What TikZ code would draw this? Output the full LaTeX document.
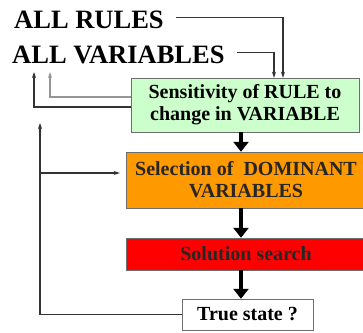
\documentclass[tikz,border=0pt]{standalone}
\usepackage{fontspec}
\setmainfont{Liberation Serif}
\usetikzlibrary{positioning, arrows.meta, calc}
\definecolor{senscol}{RGB}{204,255,204}
\definecolor{selcol}{RGB}{255,153,0}
\definecolor{solcol}{RGB}{255,0,0}
\definecolor{edgecol}{RGB}{110,110,110}
\definecolor{fbgray}{RGB}{150,150,150}

\begin{document}
\begin{tikzpicture}[
			x=1pt, y=-1pt,
			title/.style={
				font=\fontsize{26.5}{28}\selectfont\bfseries,
				inner sep=0pt,
				anchor=base west
			},
			box/.style={
				draw=edgecol,
				rectangle,
				align=center,
				inner sep=0pt,
				font=\fontsize{20}{22}\selectfont\bfseries
			},
			thin arrow/.style={
				draw=black!80,
				-{Stealth[length=6pt,width=4pt]},
				line width=1.2pt
			},
			step arrow/.style={
				draw=black,
				-{Triangle[length=10pt,width=15pt]},
				line width=3.5pt
			}
			]
			\useasboundingbox (0,0) rectangle (363,332);
			% Inputs
			\node[title] (rules) at (14,28) {ALL RULES};
			\node[title] (vars) at (12,63) {ALL VARIABLES};
			
			% Boxes
			\node[box, fill=senscol, minimum width=228pt, minimum height=54pt] (sens) at (245,105) {Sensitivity of RULE to\\change in VARIABLE};
			\node[box, fill=selcol, minimum width=240pt, minimum height=56pt, text=black!85] (sel) at (246,180) {Selection of~ DOMINANT\\VARIABLES};
			\node[box, fill=solcol, minimum width=240pt, minimum height=32pt, text=black!85] (sol) at (246,254) {Solution search};
			\node[box, fill=white, minimum width=131pt, minimum height=31pt] (truest) at (247.5,314.5) {True state ?};
			
			% Free ends
			\coordinate (fbA) at (50,72);
			\coordinate (fbB) at (34,72);
			\coordinate (loopTop) at (40,123);
			\coordinate (branch) at (40,173);
			
			% Connectors
			\draw[thin arrow] ([xshift=12pt,yshift=2pt]rules.east) -| ([xshift=38pt]sens.north);
			\draw[thin arrow] ([xshift=12pt,yshift=2pt]vars.east) -| ([xshift=29pt]sens.north);
			\draw[thin arrow, draw=fbgray] ([yshift=8pt]sens.west) -| (fbA);
			\draw[thin arrow] ([yshift=-2pt]sens.west) -| (fbB);
			\draw[thin arrow] (truest.west) -| (loopTop);
			\draw[thin arrow, shorten >=6pt] (branch) -- (branch -| sel.west);
			\path
			([xshift=-4pt]sens.south) edge [step arrow] ([xshift=-4pt]sens.south |- sel.north)
			([xshift=-4pt]sens.south |- sel.south) edge [step arrow] ([xshift=-4pt]sens.south |- sol.north)
			([xshift=-4pt]sens.south |- sol.south) edge [step arrow] ([xshift=-4pt]sens.south |- truest.north);
		\end{tikzpicture}
\end{document}
